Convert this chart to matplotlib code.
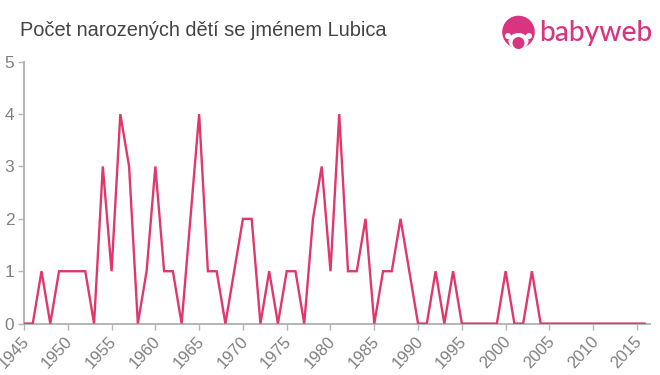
import matplotlib
matplotlib.use("Agg")
import matplotlib.pyplot as plt
from matplotlib.patches import Circle, Ellipse
from matplotlib.transforms import ScaledTranslation

plt.rcParams['font.family'] = ['Liberation Sans', 'DejaVu Sans']

title = "Počet narozených dětí se jménem Lubica"
brand = "babyweb"
years = list(range(1945, 2017))
counts = [0, 0, 1, 0, 1, 1, 1, 1, 0, 3, 1, 4, 3, 0, 1, 3, 1, 1, 0, 2,
          4, 1, 1, 0, 1, 2, 2, 0, 1, 0, 1, 1, 0, 2, 3, 1, 4, 1, 1, 2,
          0, 1, 1, 2, 1, 0, 0, 1, 0, 1, 0, 0, 0, 0, 0, 1, 0, 0, 1, 0,
          0, 0, 0, 0, 0, 0, 0, 0, 0, 0, 0, 0]
xticks = list(range(1945, 2020, 5))
yticks = [0, 1, 2, 3, 4, 5]

W, H = 660, 375
fig = plt.figure(figsize=(W / 100, H / 100), dpi=100, facecolor='white')
ax = fig.add_axes([24 / W, 1 - 323.6 / H, 626 / W, 261.9 / H])
ax.set_xlim(1945, 1945 + 626 / 8.757)
ax.set_ylim(0, 5)
ax.patch.set_alpha(0)
ax.plot(years, counts, color='#e0386c', lw=1.7, clip_on=True, zorder=3,
        solid_joinstyle='miter', solid_capstyle='butt')

for s in ('top', 'right'):
    ax.spines[s].set_visible(False)
for s in ('left', 'bottom'):
    ax.spines[s].set_color('#b5b5b5')
    ax.spines[s].set_linewidth(1.4)
    ax.spines[s].set_zorder(2)
ax.set_yticks(yticks)
ax.set_xticks(xticks)
ax.tick_params(axis='both', color='#b5b5b5', width=1, length=4.5, pad=2,
               labelcolor='#808080')
ax.tick_params(axis='y', labelsize=12.4, direction='out', pad=2.5)
ax.tick_params(axis='x', labelsize=12, pad=3)
shift = ScaledTranslation(-3 / 100, 0, fig.dpi_scale_trans)
for lab in ax.get_xticklabels():
    lab.set_rotation(47)
    lab.set_ha('right')
    lab.set_va('top')
    lab.set_rotation_mode('anchor')
    lab.set_transform(lab.get_transform() + shift)

fig.text(20 / W, 1 - 31 / H, title, fontsize=14.4, color='#444444',
         ha='left', va='center')

# logo
logo = fig.add_axes([0, 0, 1, 1], frameon=False)
logo.set_xlim(0, W)
logo.set_ylim(H, 0)
logo.axis('off')
pink = '#d9347f'
logo.add_patch(Circle((518.5, 32), 16.3, fc=pink, ec='none'))
logo.add_patch(Ellipse((518.5, 41), 20, 16, fc='white', ec='none'))
logo.add_patch(Circle((508, 36), 3, fc='white', ec='none'))
logo.add_patch(Circle((529, 36), 3, fc='white', ec='none'))
logo.add_patch(Circle((518.5, 43), 6, fc=pink, ec='none'))
logo.text(539, 33.5, brand, fontsize=20.3, color=pink, family='Lato',
          ha='left', va='center', weight='medium')

fig.savefig('out.png', dpi=100, facecolor='white')
